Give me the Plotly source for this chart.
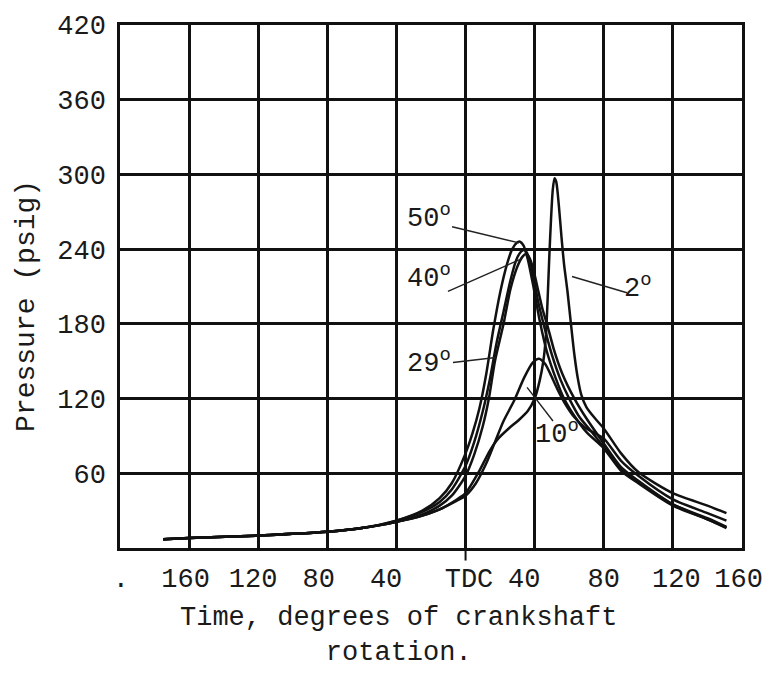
import plotly.graph_objects as go

# ---- data (crank angle in degrees, pressure in psig) ----
x_50 = [-175, -160, -120, -80, -60, -40, -25, -15, -8, 0, 4, 8, 12, 16, 20, 24, 27, 29.5, 31.5, 33.5, 36, 39, 43, 47, 52, 57, 63, 70, 80, 90, 100, 120, 140, 151]
p_50 = [7, 8, 10, 13, 16, 22, 30, 40, 52, 76, 92, 112, 140, 175, 205, 228, 240, 245, 246, 243, 232, 212, 182, 158, 137, 120, 106, 93, 80, 62, 52, 34, 23, 16]

x_40 = [-175, -160, -120, -80, -60, -40, -25, -15, -8, 0, 5, 10, 14, 18, 22, 26, 29, 31, 33, 34.5, 36.5, 39, 42, 45.5, 50, 55, 60, 66, 72, 80, 90, 100, 120, 140, 151]
p_40 = [7, 8, 10, 13, 16, 22, 29, 37, 47, 66, 85, 110, 135, 165, 190, 215, 230, 236, 239, 239, 234, 220, 198, 178, 155, 135, 120, 105, 95, 81, 63, 53, 35, 23, 16.5]

x_29 = [-175, -160, -120, -80, -60, -40, -25, -15, -8, 0, 5, 10, 13.5, 17, 22, 26, 30, 33, 35, 37, 39, 41.5, 44.5, 47.5, 51, 56, 63, 70, 80, 90, 100, 120, 140, 151]
p_29 = [7, 8, 10, 13, 16, 21, 27, 34, 42, 58, 75, 98, 120, 150, 180, 208, 226, 234, 236, 233, 225, 210, 192, 178, 160, 140, 120, 104, 84, 65, 54, 35, 24, 17]

x_10 = [-175, -160, -120, -80, -60, -40, -25, -15, -5, 0, 6, 12, 17, 22, 28, 34, 39, 42.5, 46, 49, 53, 58, 63, 69, 75, 80, 90, 100, 120, 140, 151]
p_10 = [7, 8, 10, 13, 16, 21, 26, 31, 38, 42, 52, 68, 85, 102, 118, 137, 149, 152, 148, 140, 128, 115, 105, 97, 92, 88, 70, 58, 39, 28, 22]

x_2 = [-175, -160, -120, -80, -60, -40, -25, -15, -5, 0, 8, 14, 19, 25, 31, 36, 40, 43, 45, 46.5, 47.5, 48.5, 49.5, 50.5, 51.5, 52.5, 54, 55.5, 57, 59, 61, 63, 65, 67, 70, 75, 80, 90, 100, 120, 140, 151]
p_2 = [7, 8, 10, 13, 16, 21, 26, 31, 39, 44, 62, 78, 88, 96, 103, 110, 120, 135, 150, 170, 200, 235, 265, 288, 297, 294, 275, 250, 228, 206, 180, 155, 136, 123, 113, 104, 96, 76, 61, 44, 34, 28]

y_ticks = [60, 120, 180, 240, 300, 360, 420]
x_label_pos = [-199.5, -162, -123, -85, -46, 2, 34, 80, 122, 158]
x_label_text = [".", "160", "120", "80", "40", "TDC", "40", "80", "120", "160"]

FONT = "Liberation Mono"
INK = "#1a1a1a"
FS = 27

fig = go.Figure()
for xs, ps in [(x_50, p_50), (x_40, p_40), (x_29, p_29), (x_10, p_10), (x_2, p_2)]:
    fig.add_trace(go.Scatter(x=xs, y=ps, mode="lines",
                             line=dict(color="#111111", width=2.5, shape="spline", smoothing=0.7),
                             showlegend=False, hoverinfo="skip"))

# invisible trace on overlay axis so that its labels render
fig.add_trace(go.Scatter(x=[-200, 160], y=[0, 0], xaxis="x2", mode="lines",
                         line=dict(width=0), showlegend=False, hoverinfo="skip"))

fig.update_layout(
    width=775, height=697,
    margin=dict(l=120, r=33, t=23, b=149),
    paper_bgcolor="white", plot_bgcolor="white",
    font=dict(family=FONT, size=FS, color=INK),
    xaxis=dict(range=[-200, 160], dtick=40, tick0=-200, showgrid=True,
               gridcolor="#111111", gridwidth=2.5, showticklabels=False,
               showline=True, linecolor="#111111", linewidth=2.5, mirror=True,
               zeroline=False, ticks=""),
    xaxis2=dict(range=[-200, 160], overlaying="x", anchor="y", side="bottom",
                tickmode="array", tickvals=x_label_pos, ticktext=x_label_text,
                showgrid=False, showline=False, zeroline=False, ticks="",
                ticklabelstandoff=11, tickfont=dict(family=FONT, size=FS, color=INK)),
    yaxis=dict(range=[0, 420], tickmode="array", tickvals=y_ticks,
               showgrid=True, gridcolor="#111111", gridwidth=2.5,
               showline=True, linecolor="#111111", linewidth=2.5, mirror=True,
               zeroline=False, ticks="", ticklabelstandoff=6,
               tickfont=dict(family=FONT, size=FS, color=INK)),
)

# small tick mark under TDC
fig.add_shape(type="line", xref="x", yref="paper", x0=0, x1=0, y0=0, y1=-0.024,
              line=dict(color="#111111", width=2))

# curve labels with leader lines
labels = [
    ("50<sup>o</sup>", -21, 266, (-7.8, 258), (31.0, 245)),
    ("40<sup>o</sup>", -21, 218, (-10.2, 206), (32.0, 232)),
    ("29<sup>o</sup>", -21, 150, (-7.3, 149), (17.5, 153)),
    ("10<sup>o</sup>", 53, 93, (35.6, 129), (50.6, 102)),
    ("2<sup>o</sup>", 100, 210, (61.6, 218), (93.4, 205)),
]
for txt, lx, ly, a, b in labels:
    fig.add_annotation(x=lx, y=ly, xref="x", yref="y", text=txt, showarrow=False,
                       font=dict(family=FONT, size=FS, color=INK), xanchor="center", yanchor="middle")
    fig.add_shape(type="line", xref="x", yref="y", x0=a[0], y0=a[1], x1=b[0], y1=b[1],
                  line=dict(color="#222222", width=1.4))

fig.add_annotation(text="Pressure (psig)", textangle=-90, xref="paper", yref="paper",
                   x=(27 - 120) / 622, y=(548 - 305) / 525, showarrow=False,
                   font=dict(family=FONT, size=28, color=INK), xanchor="center", yanchor="middle")
fig.add_annotation(text="Time, degrees of crankshaft<br>rotation.", xref="paper", yref="paper",
                   x=(398 - 120) / 622, y=(548 - 636) / 525, showarrow=False,
                   font=dict(family=FONT, size=FS, color=INK), xanchor="center", yanchor="middle")

fig.write_html("out.html")
